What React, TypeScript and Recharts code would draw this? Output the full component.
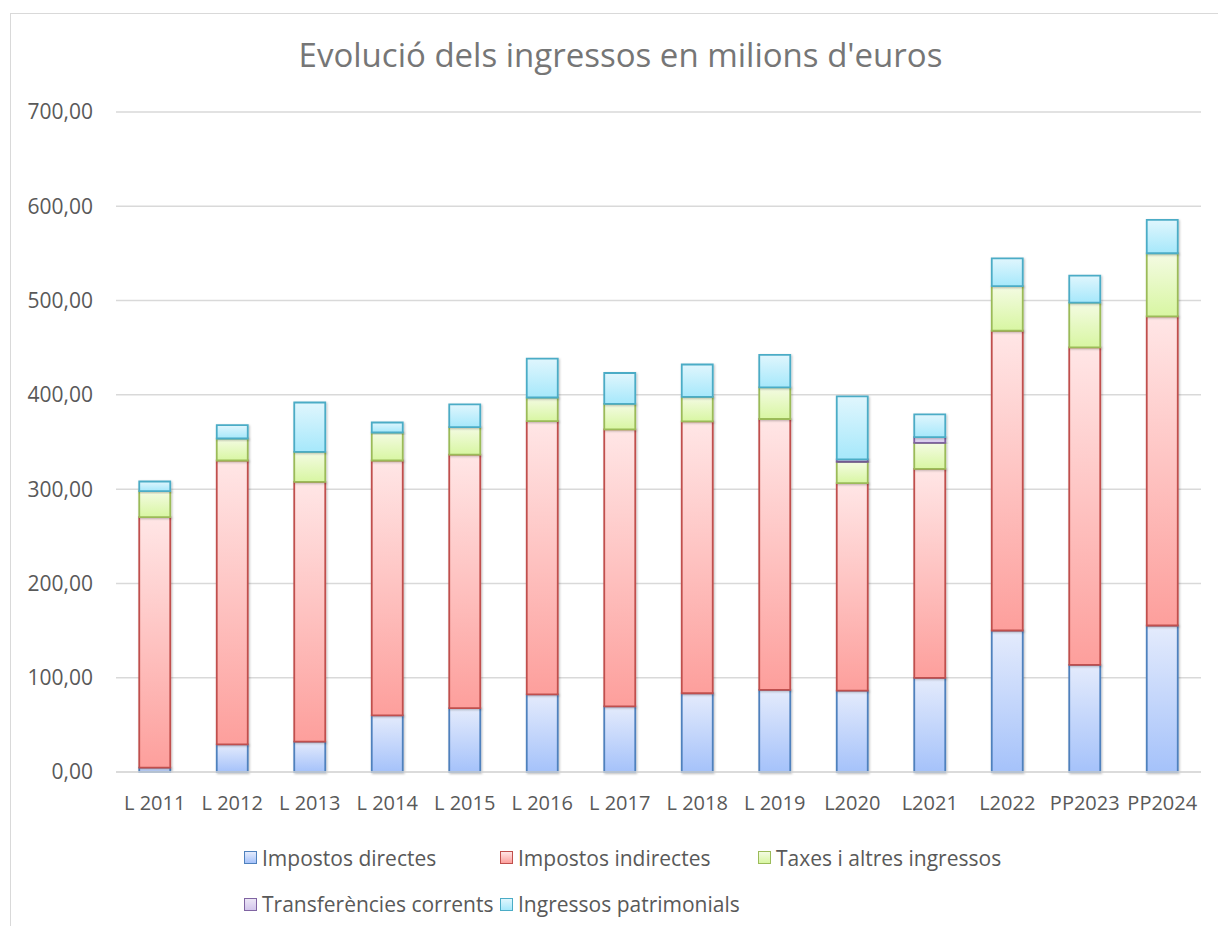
import React from "react";
import {
  BarChart,
  Bar,
  XAxis,
  YAxis,
  CartesianGrid,
} from "recharts";

const categories = [
  "L 2011", "L 2012", "L 2013", "L 2014", "L 2015", "L 2016", "L 2017",
  "L 2018", "L 2019", "L2020", "L2021", "L2022", "PP2023", "PP2024",
];
const directes = [4.6, 29.3, 32.2, 60.1, 67.8, 82.3, 69.7, 83.5, 87.2, 86.4, 99.9, 150.1, 113.6, 155.4];
const indirectes = [265.7, 301.1, 275.6, 270.3, 268.9, 289.8, 293.6, 288.3, 287.2, 219.9, 221.6, 317.9, 336.8, 327.8];
const taxes = [27.6, 23.3, 31.8, 29.7, 29.0, 25.1, 27.2, 26.1, 33.6, 22.7, 27.6, 47.3, 47.4, 67.0];
const transferencies = [0, 0, 0, 0, 0, 0, 0, 0, 0, 2.6, 6.0, 0, 0, 0];
const patrimonials = [10.2, 14.1, 52.3, 10.6, 24.1, 41.3, 32.7, 34.3, 34.3, 66.7, 24.2, 29.4, 28.7, 35.3];
const yTicks = [0, 100, 200, 300, 400, 500, 600, 700];

const series = [
  { key: "directes", name: "Impostos directes", values: directes, stroke: "#4F81BD", top: "#e4ebfc", bottom: "#a5c2fa" },
  { key: "indirectes", name: "Impostos indirectes", values: indirectes, stroke: "#C0504D", top: "#ffe6e6", bottom: "#fd9f9c" },
  { key: "taxes", name: "Taxes i altres ingressos", values: taxes, stroke: "#9BBB59", top: "#f4fbe3", bottom: "#d8f6a2" },
  { key: "transferencies", name: "Transferències corrents", values: transferencies, stroke: "#8064A2", top: "#ece6f6", bottom: "#d3c6ec" },
  { key: "patrimonials", name: "Ingressos patrimonials", values: patrimonials, stroke: "#4BACC6", top: "#e0f6fd", bottom: "#a6e8fb" },
];

const data = categories.map((c, i) => {
  const row: Record<string, string | number> = { name: c };
  series.forEach((s) => (row[s.key] = s.values[i]));
  return row;
});

const FONT = "'Open Sans', 'Noto Sans', sans-serif";
const GREY = "#595959";

const fmt = (v: number) => v.toFixed(2).replace(".", ",");

function LegendItem({ s }: { s: (typeof series)[number] }) {
  return (
    <span style={{ display: "inline-flex", alignItems: "center" }}>
      <span
        style={{
          width: 11,
          height: 11,
          border: `1.5px solid ${s.stroke}`,
          background: `linear-gradient(${s.top}, ${s.bottom})`,
          marginRight: 5,
          display: "inline-block",
        }}
      />
      {s.name}
    </span>
  );
}

export default function App() {
  return (
    <div style={{ position: "absolute", left: 0, top: 0, width: 1218, height: 926, background: "#fff", fontFamily: FONT }}>
      <div
        style={{
          position: "absolute",
          left: 10,
          top: 13,
          width: 1220,
          height: 930,
          borderLeft: "1.5px solid #d9d9d9",
          borderTop: "1.5px solid #d9d9d9",
        }}
      />
      <div
        style={{
          position: "absolute",
          left: 0,
          width: 1241,
          top: 32,
          textAlign: "center",
          fontSize: 33,
          color: "#767676",
          whiteSpace: "nowrap",
        }}
      >
        Evolució dels ingressos en milions d'euros
      </div>
      <BarChart
        width={1218}
        height={926}
        data={data}
        margin={{ top: 112, right: 17, left: 16, bottom: 124 }}
        barCategoryGap="30%"
        style={{ position: "absolute", left: 0, top: 0 }}
      >
        <defs>
          {series.map((s) => (
            <linearGradient key={s.key} id={`g-${s.key}`} x1="0" y1="0" x2="0" y2="1">
              <stop offset="0%" stopColor={s.top} />
              <stop offset="100%" stopColor={s.bottom} />
            </linearGradient>
          ))}
          <filter id="shadow" x="-20%" y="-20%" width="140%" height="140%">
            <feDropShadow dx="1" dy="1" stdDeviation="1.2" floodColor="#000" floodOpacity="0.25" />
          </filter>
        </defs>
        <CartesianGrid vertical={false} stroke="#d9d9d9" strokeWidth={1.5} />
        <XAxis
          dataKey="name"
          axisLine={{ stroke: "#d9d9d9", strokeWidth: 1.5 }}
          tickLine={false}
          interval={0}
          tickMargin={18}
          height={30}
          tick={{ fill: GREY, fontSize: 20, fontFamily: FONT }}
        />
        <YAxis
          domain={[0, 700]}
          ticks={yTicks}
          axisLine={false}
          tickLine={false}
          tickMargin={17}
          width={100}
          tickFormatter={fmt}
          tick={{ fill: GREY, fontSize: 21, fontFamily: FONT }}
        />
        {series.map((s) => (
          <Bar
            key={s.key}
            dataKey={s.key}
            name={s.name}
            stackId="a"
            fill={`url(#g-${s.key})`}
            stroke={s.stroke}
            strokeWidth={1.8}
            filter="url(#shadow)"
            isAnimationActive={false}
          />
        ))}
      </BarChart>
      <div style={{ position: "absolute", left: 244, top: 842, fontSize: 21, color: GREY, lineHeight: "28px" }}>
        <div style={{ display: "flex" }}>
          <span style={{ width: 256 }}><LegendItem s={series[0]} /></span>
          <span style={{ width: 258 }}><LegendItem s={series[1]} /></span>
          <span style={{ whiteSpace: "nowrap" }}><LegendItem s={series[2]} /></span>
        </div>
        <div style={{ display: "flex", marginTop: 17 }}>
          <span style={{ width: 256, whiteSpace: "nowrap" }}><LegendItem s={series[3]} /></span>
          <span style={{ whiteSpace: "nowrap" }}><LegendItem s={series[4]} /></span>
        </div>
      </div>
    </div>
  );
}
